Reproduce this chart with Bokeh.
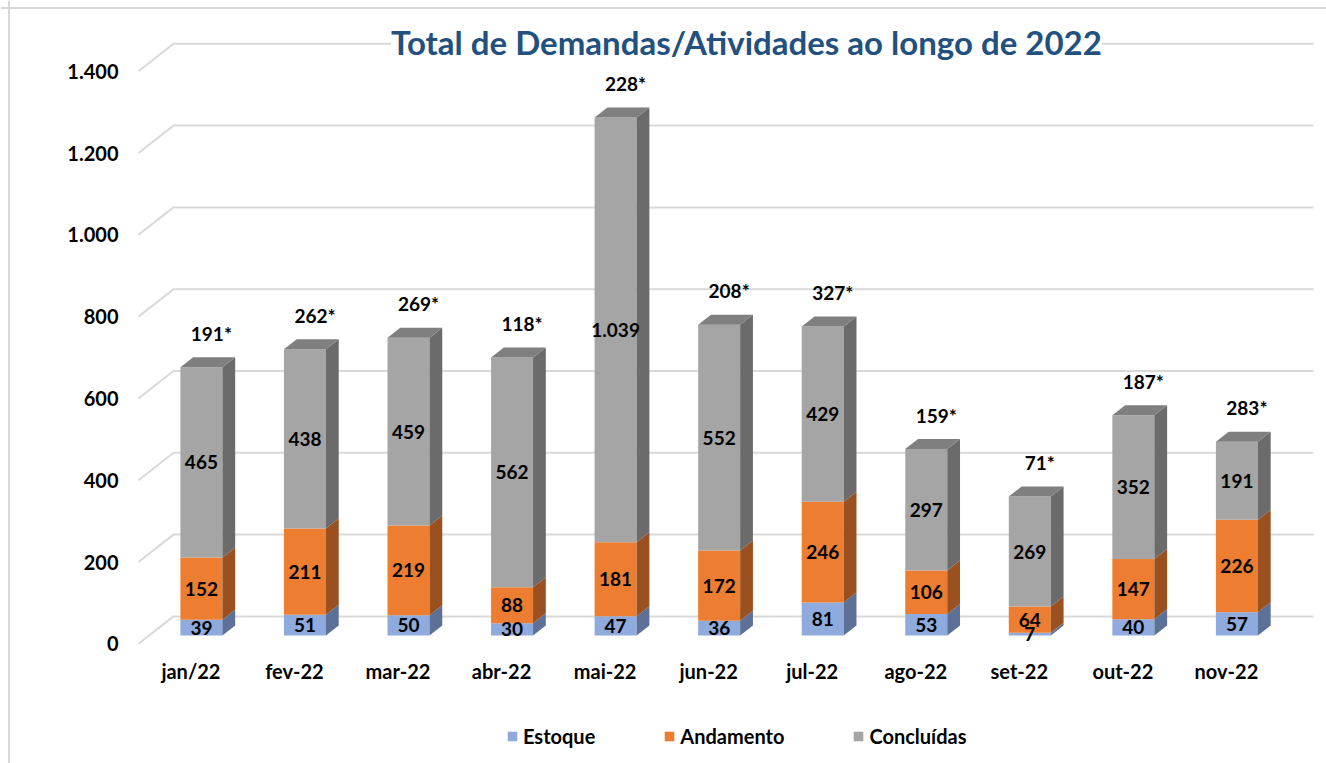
import numpy as np
from bokeh.plotting import figure
from bokeh.models import (Range1d, LinearAxis, FixedTicker, ColumnDataSource,
                          Legend, LegendItem, Label, Span)
from bokeh.embed import file_html
from bokeh.resources import INLINE
from bokeh.core.properties import value

# ---------------- data ----------------
months = ["jan/22", "fev-22", "mar-22", "abr-22", "mai-22", "jun-22",
          "jul-22", "ago-22", "set-22", "out-22", "nov-22"]
estoque = [39, 51, 50, 30, 47, 36, 81, 53, 7, 40, 57]
andamento = [152, 211, 219, 88, 181, 172, 246, 106, 64, 147, 226]
concluidas = [465, 438, 459, 562, 1039, 552, 429, 297, 269, 352, 191]
starred = [191, 262, 269, 118, 228, 208, 327, 159, 71, 187, 283]
series_names = ["Estoque", "Andamento", "Concluídas"]
y_ticks = [0, 200, 400, 600, 800, 1000, 1200, 1400]
y_tick_labels = ["0", "200", "400", "600", "800", "1.000", "1.200", "1.400"]
title_text = "Total de Demandas/Atividades ao longo de 2022"

# ---------------- styling / geometry ----------------
FONT = "Lato"
front_cols = ["#8FAADC", "#ED7D31", "#A5A5A5"]
side_cols = ["#5D7098", "#9A501F", "#6B6B6B"]
top_col = "#7F7F7F"
grid_col = "#D9D9D9"

W, H = 1326, 763
PX_X = 103.55          # pixels per category
PX_Y = 0.409           # pixels per unit of value
x0 = -190.4 / PX_X
x1 = x0 + W / PX_X
y1 = 643.3 / PX_Y
y0 = y1 - H / PX_Y

DX_FULL = 35 / PX_X    # depth offset (x) of the back wall
DY_FULL = 27.4 / PX_Y  # depth offset (y) of the back wall
T_FRONT, T_BACK = 0.30, 0.665
bdx = T_FRONT * DX_FULL
bdy = T_FRONT * DY_FULL
sdx = (T_BACK - T_FRONT) * DX_FULL
sdy = (T_BACK - T_FRONT) * DY_FULL
HW = 21 / PX_X          # half bar width


def fmt(n):
    return f"{n:,}".replace(",", ".")


p = figure(width=W, height=H, x_range=Range1d(x0, x1), y_range=Range1d(y0, y1),
           x_axis_type=None, y_axis_type=None, toolbar_location=None,
           output_backend="svg", min_border=0, outline_line_color=None,
           background_fill_color="white", border_fill_color="white")

# chart border (left & top)
p.add_layout(Span(location=x0 + 8.5 / PX_X, dimension="height", line_color=grid_col, line_width=2))
p.add_layout(Span(location=y1 - 7.5 / PX_Y, dimension="width", line_color=grid_col, line_width=2))

# 3D gridlines: diagonal on the left wall + horizontal on the back wall
gx_front = x0 + 138 / PX_X
gx_back = gx_front + DX_FULL
gx_end = x0 + 1313 / PX_X
xs, ys = [], []
for t in y_ticks:
    xs.append([gx_front, gx_back, gx_end])
    ys.append([t, t + DY_FULL, t + DY_FULL])
p.multi_line(xs, ys, line_color=grid_col, line_width=2)

# stacked 3D bars
idx = np.arange(len(months))
series = [estoque, andamento, concluidas]
bottoms = np.zeros(len(months))
front_renderers = []
for s, vals in enumerate(series):
    vals = np.array(vals, dtype=float)
    tops = bottoms + vals
    cx = idx + bdx
    src = ColumnDataSource(dict(x=cx, b=bottoms + bdy, t=tops + bdy))
    r = p.vbar(x="x", bottom="b", top="t", width=2 * HW, source=src,
               fill_color=front_cols[s], line_color=None)
    front_renderers.append(r)
    # side faces
    pxs, pys = [], []
    for i in idx:
        xr = cx[i] + HW
        b, t = bottoms[i] + bdy, tops[i] + bdy
        pxs.append([xr, xr + sdx, xr + sdx, xr])
        pys.append([b, b + sdy, t + sdy, t])
    p.patches(pxs, pys, fill_color=side_cols[s], line_color=None)
    bottoms = tops

# top faces
txs, tys = [], []
for i in idx:
    cx = i + bdx
    t = bottoms[i] + bdy
    txs.append([cx - HW, cx + HW, cx + HW + sdx, cx - HW + sdx])
    tys.append([t, t, t + sdy, t + sdy])
p.patches(txs, tys, fill_color=top_col, line_color=None)

# data labels (drawn after all bars)
b0 = np.zeros(len(months))
for s, vals in enumerate(series):
    vals = np.array(vals, dtype=float)
    src = ColumnDataSource(dict(x=idx + bdx, y=b0 + vals / 2 + bdy,
                                txt=[fmt(int(v)) for v in vals]))
    p.text(x="x", y="y", text="txt", source=src, text_font=value(FONT),
           text_font_style="bold", text_font_size="19px", text_color="black",
           text_align="center", text_baseline="middle")
    b0 = b0 + vals

# starred labels above the bars
star_src = ColumnDataSource(dict(x=idx + bdx + 10 / PX_X, y=b0 + bdy + 34 / PX_Y,
                                 txt=[f"{v}*" for v in starred]))
p.text(x="x", y="y", text="txt", source=star_src, text_font=value(FONT),
       text_font_style="bold", text_font_size="19px", text_color="black",
       text_align="center", text_baseline="middle")

# axes
yaxis = LinearAxis(fixed_location=gx_front, ticker=FixedTicker(ticks=y_ticks),
                   major_label_overrides={t: l for t, l in zip(y_ticks, y_tick_labels)},
                   axis_line_color=None, major_tick_line_color=None,
                   minor_tick_line_color=None, major_label_standoff=14,
                   major_label_text_font=FONT, major_label_text_font_style="bold",
                   major_label_text_font_size="20px", major_label_text_color="black")
p.add_layout(yaxis, "left")

xaxis = LinearAxis(fixed_location=-9.0, ticker=FixedTicker(ticks=list(idx)),
                   major_label_overrides={int(i): m for i, m in zip(idx, months)},
                   axis_line_color=None, major_tick_line_color=None,
                   minor_tick_line_color=None, major_label_standoff=6,
                   major_label_text_font=FONT, major_label_text_font_style="bold",
                   major_label_text_font_size="20px", major_label_text_color="black")
p.add_layout(xaxis, "below")

# title
p.add_layout(Label(x=x0 + 746 / PX_X, y=(643.3 - 41) / PX_Y, text=title_text,
                   text_align="center", text_baseline="middle", text_font=FONT,
                   text_font_style="bold", text_font_size="33px", text_color="#22507F",
                   background_fill_color="white"))

# legend
legend = Legend(items=[LegendItem(label=n, renderers=[r]) for n, r in zip(series_names, front_renderers)],
                orientation="horizontal", location=(506, 15), glyph_width=12, glyph_height=12,
                label_standoff=5, spacing=68, padding=0, margin=0,
                border_line_color=None, background_fill_alpha=0,
                label_text_font=FONT, label_text_font_style="bold",
                label_text_font_size="20px", label_text_color="black")
p.add_layout(legend)

open("out.html", "w").write(file_html(p, INLINE))
